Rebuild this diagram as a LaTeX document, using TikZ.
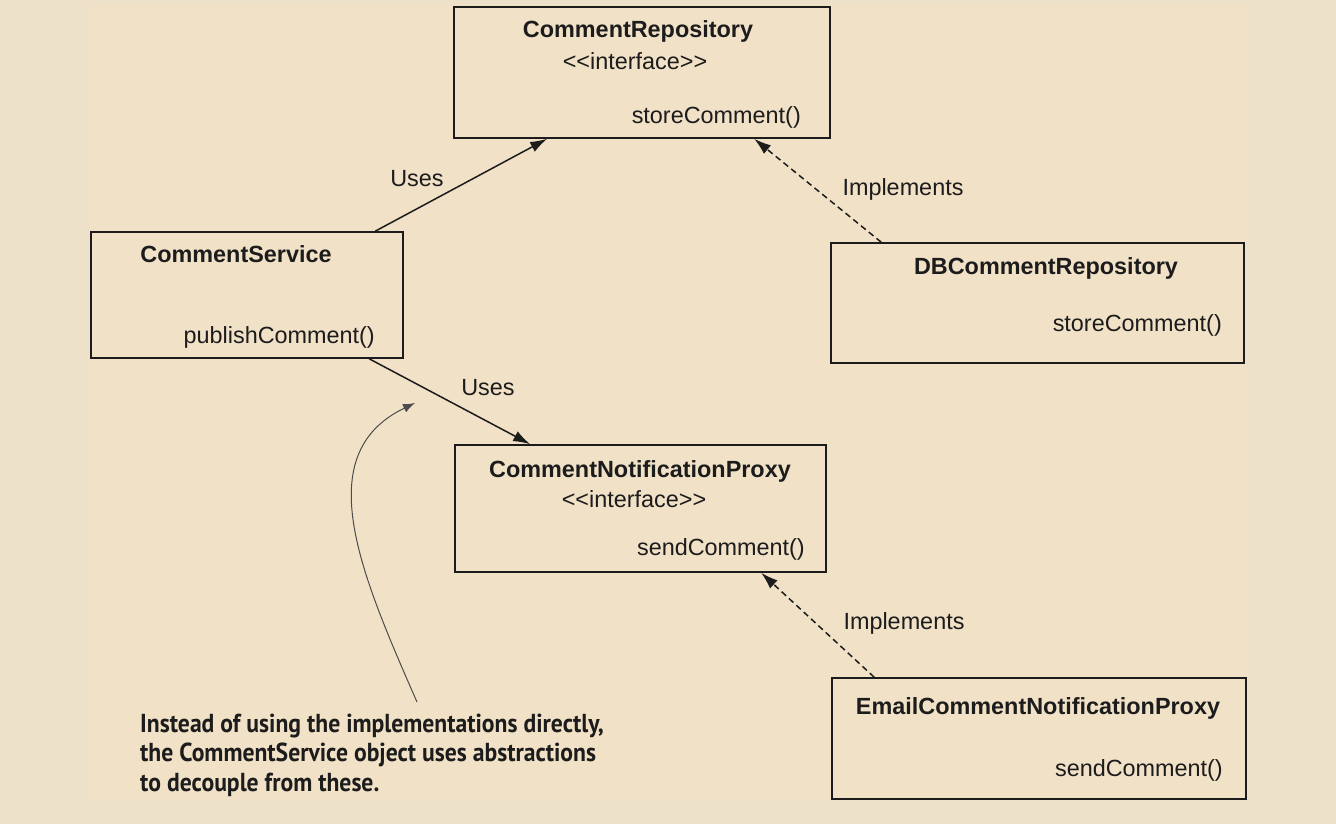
\documentclass[tikz,border=0pt]{standalone}
\usepackage{fontspec}
\newfontfamily\umlfont{Liberation Sans}
\newfontfamily\notefont{PT Sans}
\usepackage{xcolor}
\usetikzlibrary{calc,positioning,arrows.meta}
\definecolor{outerbg}{HTML}{EDE1CA}
\definecolor{innerbg}{HTML}{F1E1C7}
\definecolor{ink}{HTML}{1C1C1C}

\tikzset{
  cls/.style={draw=ink, line width=1.6pt, inner sep=0pt},
  cname/.style={font=\umlfont\fontsize{23.4}{28}\selectfont\bfseries, inner sep=0pt, text=ink, anchor=base},
  ctext/.style={font=\umlfont\fontsize{23.4}{28}\selectfont, inner sep=0pt, text=ink, anchor=base},
  cmeth/.style={ctext, anchor=base east},
  uses/.style={draw=ink, line width=1.5pt, -{Latex[length=17pt,width=11pt]}},
  impl/.style={uses, dash pattern=on 6pt off 4pt},
  note/.style={draw=black!70, line width=1pt, -{Latex[length=12pt,width=9pt]}}
}

\begin{document}
\begin{tikzpicture}[x=1pt,y=-1pt]
  \fill[outerbg] (0,0) rectangle (1336,824);
  \fill[innerbg] (90,5) rectangle (1246,800);

  % interface for storing
  \node[cls, minimum width=376pt, minimum height=131pt] (repo) at (642,72.5) {};
     \node[cname] (repoN) at (638,38) {CommentRepository};
     \node[ctext] (repoI) at (635,70) {<<interface>>};
     \node[cmeth] (repoM) at (801,124) {storeComment()};

  \node[cls, minimum width=312pt, minimum height=126pt] (svc) at (247,295) {};
     \node[cname] (svcN) at (236,262) {CommentService};
     \node[cmeth] (svcM) at (375,343) {publishComment()};

  \node[cls, minimum width=413pt, minimum height=120pt] (db) at (1037.5,303) {};
     \node[cname] (dbN) at (1046,274) {DBCommentRepository};
     \node[cmeth] (dbM) at (1222,331) {storeComment()};

  % interface for notifying
  \node[cls, minimum width=371pt, minimum height=127pt] (proxy) at (640.5,508.5) {};
     \node[cname] (proxyN) at (640,477) {CommentNotificationProxy};
     \node[ctext] (proxyI) at (634,507) {<<interface>>};
     \node[cmeth] (proxyM) at (805,555) {sendComment()};

  \node[cls, minimum width=414pt, minimum height=121pt] (email) at (1039,738.5) {};
     \node[cname] (emailN) at (1038,714) {EmailCommentNotificationProxy};
     \node[cmeth] (emailM) at (1223,776) {sendComment()};

  % connectors
  \draw[uses] ([xshift=285pt]svc.north west) -- ([xshift=94pt]repo.south west);
     \node[ctext] (uses1) at (417,186) {Uses};
  \draw[impl] ([xshift=51pt]db.north west) -- ([xshift=301pt]repo.south west);
     \node[ctext] (impl1) at (903,195) {Implements};
  \draw[uses] ([xshift=279pt]svc.south west) -- ([xshift=76pt]proxy.north west);
     \node[ctext] (uses2) at (488,395) {Uses};
  \draw[impl] ([xshift=43pt]email.north west) -- ([xshift=307pt]proxy.south west);
     \node[ctext] (impl2) at (904,629) {Implements};

  % remark
  \node[font=\notefont\bfseries\fontsize{26}{29.5}\selectfont, text=ink, inner sep=0pt,
        anchor=base west, align=left] (remark) at (140,791)
     {\scalebox{0.91}[1]{Instead of using the implementations directly,}\\
      \scalebox{0.91}[1]{the CommentService object uses abstractions}\\
      \scalebox{0.91}[1]{to decouple from these.}};
  \coordinate (tail) at (417,702);
  \coordinate (tip) at (415,403);
  \draw[note] (tail) .. controls (360,572) and (309,454) .. (tip);
\end{tikzpicture}
\end{document}
